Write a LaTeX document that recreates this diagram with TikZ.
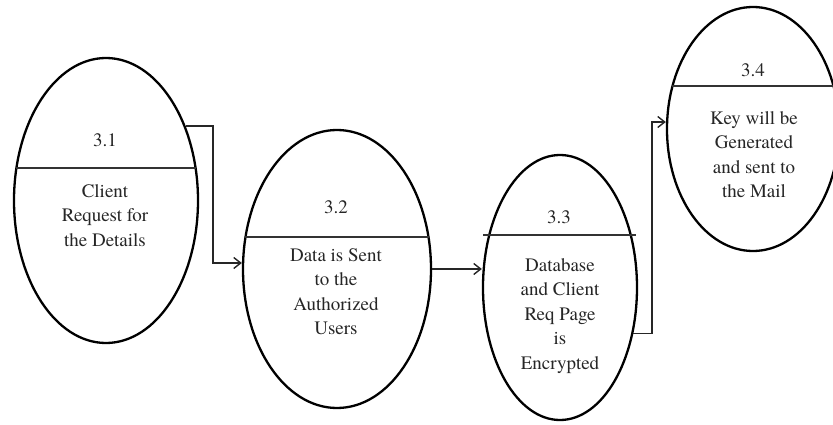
\documentclass[tikz,border=0pt]{standalone}
\usepackage{fontspec}
\setmainfont{texgyretermes}[Extension=.otf,UprightFont=*-regular,BoldFont=*-bold,ItalicFont=*-italic,BoldItalicFont=*-bolditalic]
\usetikzlibrary{shapes.geometric,arrows.meta}
\tikzset{
  proc/.style={draw=black, line width=2.3pt, ellipse, inner sep=0pt, fill=none},
  divider/.style={draw=black!80, line width=1.3pt},
  flow/.style={draw=black!85, line width=1.4pt, -{Straight Barb[length=7pt,width=11pt,line width=1.4pt]}},
  num/.style={font=\rmfamily\fontsize{19}{24.5}\selectfont, text=black!85, inner sep=0pt},
  body/.style={font=\rmfamily\fontsize{19}{24.5}\selectfont, text=black!85, inner sep=0pt, align=center, anchor=north}
}
\begin{document}
\begin{tikzpicture}[x=1pt,y=1pt]
\useasboundingbox (0,0) rectangle (833,-425);
% processes
\node[proc, minimum width=184pt, minimum height=285pt] (e1) at (106,-200.5) {};
\node[proc, minimum width=188pt, minimum height=278pt] (e2) at (337,-269) {};
\node[proc, minimum width=154pt, minimum height=265pt] (e3) at (560,-287.5) {};
\node[proc, minimum width=172pt, minimum height=244pt] (e4) at (753,-129) {};
% dividers
\draw[divider] ([shift={(-90,32.5)}]e1.center) -- ([shift={(90,32.5)}]e1.center);
\draw[divider] ([shift={(-92,32)}]e2.center) -- ([shift={(92,32)}]e2.center);
\draw[divider] ([shift={(-77,52.5)}]e3.center) -- ([shift={(76,52.5)}]e3.center);
\draw[divider] ([shift={(-81,43)}]e4.center) -- ([shift={(85,43)}]e4.center);
% numbers
\node[num] (n1) at (105,-140) {3.1};
\node[num] (n2) at (336,-207) {3.2};
\node[num] (n3) at (559,-217) {3.3};
\node[num] (n4) at (753,-70) {3.4};
% bodies
\node[body] (t1) at (105,-184) {Client\\Request for\\the Details};
\node[body] (t2) at (336,-248) {Data is Sent\\to the\\Authorized\\Users};
\node[body] (t3) at (560,-258) {Database\\and Client\\Req Page\\is\\Encrypted};
\node[body] (t4) at (754,-111) {Key will be\\Generated\\and sent to\\the Mail};
% connectors
\coordinate (k1) at (213,-263);
\coordinate (k3) at (652,-122);
\draw[flow] (e1.43) -| (k1) -- (k1 -| e2.west);
\draw[flow] (e2.east) -- (e2.east -| e3.west);
\draw[flow] (e3.328) -| (k3) -- (k3 -| e4.west);
\end{tikzpicture}
\end{document}
